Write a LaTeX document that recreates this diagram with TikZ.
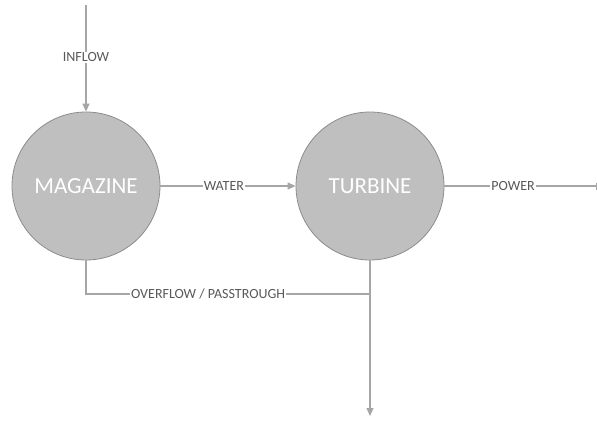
\documentclass[tikz,border=0pt]{standalone}
\usepackage{fontspec}
\setmainfont{Carlito}
\usetikzlibrary{arrows.meta}
\definecolor{linegray}{HTML}{A6A6A6}
\definecolor{fillgray}{HTML}{BFBFBF}
\definecolor{rimgray}{HTML}{8C8C8C}
\definecolor{labelgray}{HTML}{595959}
\begin{document}
\begin{tikzpicture}[x=1pt,y=-1pt,
  tank/.style={circle,draw=rimgray,line width=0.8pt,fill=fillgray,minimum size=148pt,inner sep=0pt,
    text=white,font=\fontsize{23}{26}\selectfont},
  flow/.style={draw=linegray,line width=1.2pt,-{Triangle[length=8pt,width=7pt]}},
  flowbar/.style={draw=linegray,line width=1.2pt,-{Bar[width=7pt]}},
  plain/.style={draw=linegray,line width=1.2pt},
  lbl/.style={fill=white,inner sep=1pt,text=labelgray,font=\fontsize{14}{16}\selectfont}]
\useasboundingbox (0,0) rectangle (597,421);
\node[tank] (mag) at (86,186) {MAGAZINE};
\node[tank] (tur) at (370,186) {TURBINE};
\coordinate (src) at (86,5);
\coordinate (out) at (597,186);
\coordinate (bend) at (86,294);
\coordinate (join) at (370,294);
\coordinate (sink) at (370,416);
\draw[flow] (src) -- node[lbl,pos=0.49] {INFLOW} (mag);
\draw[flow] (mag) -- node[lbl,pos=0.47] {WATER} (tur);
\draw[flowbar] (tur) -- node[lbl,pos=0.45] {POWER} (out);
\draw[plain] (mag.south) -- (bend) -- node[lbl,pos=0.43] {OVERFLOW / PASSTROUGH} (join);
\draw[flow] (tur.south) -- (sink);
\end{tikzpicture}
\end{document}
